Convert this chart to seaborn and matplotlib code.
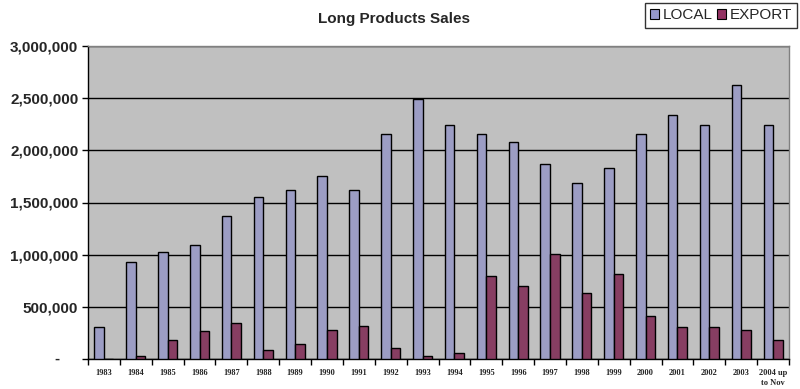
import numpy as np
import pandas as pd
import seaborn as sns
from matplotlib import pyplot as plt
from matplotlib.ticker import FuncFormatter, MultipleLocator
from matplotlib.patches import Patch
import matplotlib.transforms as mtransforms

years = ["1983", "1984", "1985", "1986", "1987", "1988", "1989", "1990", "1991",
         "1992", "1993", "1994", "1995", "1996", "1997", "1998", "1999", "2000",
         "2001", "2002", "2003", "2004 up\nto Nov"]
local = [303000, 926000, 1022000, 1089000, 1367000, 1549000, 1617000, 1751000,
         1617000, 2153000, 2489000, 2240000, 2153000, 2077000, 1866000, 1684000,
         1827000, 2153000, 2335000, 2240000, 2623000, 2240000]
export = [0, 26000, 179000, 265000, 342000, 83000, 141000, 275000, 313000,
          102000, 26000, 54000, 792000, 696000, 1003000, 629000, 811000, 409000,
          303000, 303000, 275000, 179000]
series = ["LOCAL", "EXPORT"]
colors = ["#9597CB", "#933262"]

df = pd.DataFrame({
    "year": years * 2,
    "sales": local + export,
    "series": [series[0]] * len(years) + [series[1]] * len(years),
})

sns.set_style("white")
plt.rcParams["font.family"] = ["Liberation Sans", "DejaVu Sans"]

fig = plt.figure(figsize=(8, 3.89), dpi=100)
ax = fig.add_axes([88 / 800, 1 - 359 / 389, 701 / 800, 313 / 389])
ax.set_facecolor("#C0C0C0")

sns.barplot(data=df, x="year", y="sales", hue="series", palette=colors,
            width=0.6, gap=0, edgecolor="black", linewidth=1, legend=False,
            ax=ax, zorder=3)

ax.set_ylim(0, 3000000)
ax.set_xlim(-0.5, len(years) - 0.5)
ax.yaxis.set_major_locator(MultipleLocator(500000))
ax.yaxis.set_major_formatter(FuncFormatter(lambda v, p: "" if v == 0 else f"{v:,.0f}"))
ax.grid(axis="y", color="black", linewidth=1, zorder=1)
ax.set_axisbelow(True)
ax.set_xlabel("")
ax.set_ylabel("")

for lab in ax.get_yticklabels():
    lab.set_fontweight("bold")
    lab.set_fontsize(11)
ax.tick_params(axis="y", left=True, length=4, width=1, color="black", pad=3)

# zero shown as dash, Excel accounting style
trans = mtransforms.blended_transform_factory(fig.transFigure, ax.transData)
fig.text(57 / 800, 0, "-", transform=trans, ha="center", va="center",
         fontsize=11, fontweight="bold")

ax.set_xticks(range(len(years)))
ax.set_xticklabels(years, fontsize=6, fontweight="bold", family="Liberation Serif",
                   linespacing=1.3, va="top")
ax.tick_params(axis="x", which="major", length=0, pad=7)
ax.set_xticks(np.arange(-0.5, len(years), 1), minor=True)
ax.tick_params(axis="x", which="minor", bottom=True, length=4, width=1, color="black")

for side in ["left", "bottom"]:
    ax.spines[side].set_color("black")
    ax.spines[side].set_linewidth(1)
for side in ["top", "right"]:
    ax.spines[side].set_color("#808080")
    ax.spines[side].set_linewidth(1)

fig.text(394 / 800, 1 - 19 / 389, "Long Products Sales", ha="center", va="center",
         fontsize=11, fontweight="bold")

handles = [Patch(facecolor=c, edgecolor="black", linewidth=0.8) for c in colors]
leg = fig.legend(handles, series, loc="upper right",
                 bbox_to_anchor=(797 / 800, 1 - 3 / 389), ncol=2, frameon=True,
                 fancybox=False, fontsize=11, handlelength=0.6, handleheight=0.6,
                 handletextpad=0.2, columnspacing=0.3, borderpad=0.35,
                 borderaxespad=0)
leg.get_frame().set_edgecolor("black")
leg.get_frame().set_linewidth(1)

fig.savefig("out.png", dpi=100)
